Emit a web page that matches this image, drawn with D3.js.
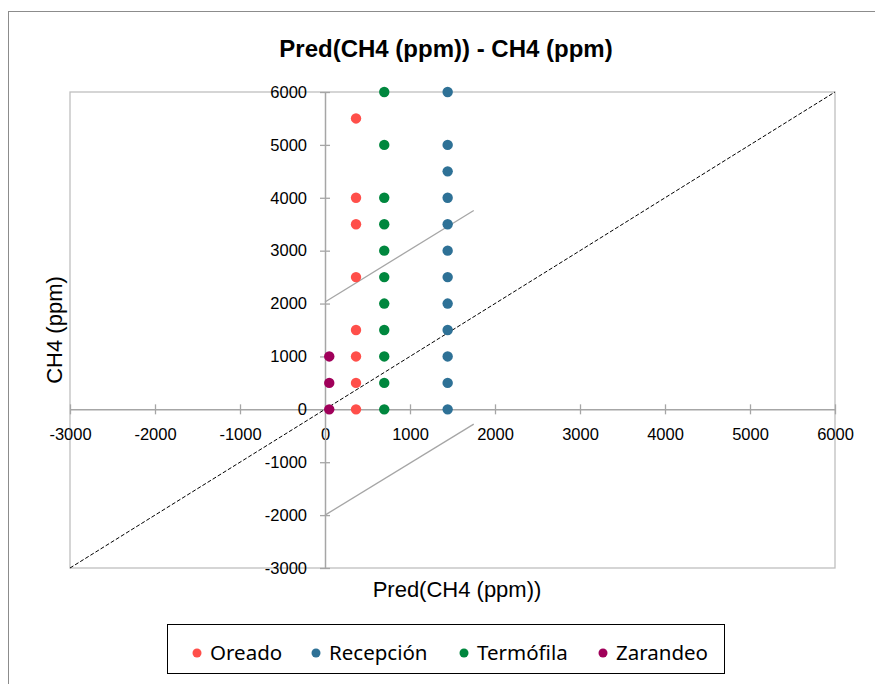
<!DOCTYPE html>
<html><head><meta charset="utf-8">
<script src="https://cdn.jsdelivr.net/npm/d3@7"></script>
<style>body{margin:0;background:#fff;} svg{display:block;}</style>
</head><body>
<div id="chart"></div>
<script>
// ---- data ----
const seriesNames = ["Oreado", "Recepción", "Termófila", "Zarandeo"];
const seriesColors = ["#FF4F4A", "#2E7196", "#00873E", "#A0005A"];
const oreadoX = 365;
const oreadoY = [5500, 4000, 3500, 2500, 1500, 1000, 500, 0];
const recepcionX = 1443;
const recepcionY = [6000, 5000, 4500, 4000, 3500, 3000, 2500, 2000, 1500, 1000, 500, 0];
const termofilaX = 697;
const termofilaY = [6000, 5000, 4000, 3500, 3000, 2500, 2000, 1500, 1000, 500, 0];
const zarandeoX = 50;
const zarandeoY = [1000, 500, 0];
const xTicks = [-3000, -2000, -1000, 0, 1000, 2000, 3000, 4000, 5000, 6000];
const yTicks = [-3000, -2000, -1000, 0, 1000, 2000, 3000, 4000, 5000, 6000];
const upperBand = [[0, 2030], [1750, 3760]];
const lowerBand = [[0, -2000], [1750, -280]];
const identityLine = [[-3000, -3000], [6000, 6000]];

const W = 875, H = 684;
const svg = d3.select("#chart").append("svg").attr("width", W).attr("height", H);
const x = d3.scaleLinear().domain([-3000, 6000]).range([70, 835]);
const y = d3.scaleLinear().domain([-3000, 6000]).range([568, 92]);
const font = "Liberation Sans, Arial, sans-serif";

// outer frame
svg.append("rect").attr("x", 8.5).attr("y", 11.5).attr("width", 900).attr("height", 700)
  .attr("fill", "none").attr("stroke", "#8c8c8c").attr("stroke-width", 1);

// title
svg.append("text").attr("x", 446).attr("y", 57).attr("text-anchor", "middle")
  .attr("font-family", font).attr("font-weight", "bold")
  .attr("font-size", 24).attr("fill", "#000").text("Pred(CH4 (ppm)) - CH4 (ppm)");

// plot area border
svg.append("rect").attr("x", x(-3000)).attr("y", y(6000))
  .attr("width", x(6000) - x(-3000)).attr("height", y(-3000) - y(6000))
  .attr("fill", "none").attr("stroke", "#bfbfbf").attr("stroke-width", 1.3);

// axes through zero
const xAxis = d3.axisBottom(x).tickValues(xTicks).tickSizeInner(0).tickSizeOuter(0).tickFormat(d => String(d));
const gx = svg.append("g").attr("transform", `translate(0,${y(0)})`).call(xAxis);
gx.select(".domain").attr("stroke", "#a6a6a6").attr("stroke-width", 1.5);
gx.selectAll(".tick line").remove();
gx.selectAll(".tick").append("line").attr("y1", -5).attr("y2", 5).attr("stroke", "#a6a6a6").attr("stroke-width", 1.3);
gx.selectAll(".tick text").attr("y", 19).attr("dy", "0.71em").attr("font-size", 16.5).attr("fill", "#000");

const yAxis = d3.axisLeft(y).tickValues(yTicks).tickSizeInner(0).tickSizeOuter(0).tickFormat(d => String(d));
const gy = svg.append("g").attr("transform", `translate(${x(0)},0)`).call(yAxis);
gy.select(".domain").attr("stroke", "#a6a6a6").attr("stroke-width", 1.5);
gy.selectAll(".tick line").remove();
gy.selectAll(".tick").append("line").attr("x1", -5).attr("x2", 5).attr("stroke", "#a6a6a6").attr("stroke-width", 1.3);
gy.selectAll(".tick text").attr("x", -18).attr("font-size", 16.5).attr("fill", "#000");
svg.selectAll(".tick text").attr("font-family", font);

// axis titles
svg.append("text").attr("x", 457).attr("y", 597).attr("text-anchor", "middle")
  .attr("font-family", font).attr("font-size", 22).attr("fill", "#000").text("Pred(CH4 (ppm))");
svg.append("text").attr("transform", "translate(62,330) rotate(-90)").attr("text-anchor", "middle")
  .attr("font-family", font).attr("font-size", 22).attr("fill", "#000").text("CH4 (ppm)");

// lines
const line = d3.line().x(d => x(d[0])).y(d => y(d[1]));
svg.append("path").attr("d", line(identityLine)).attr("fill", "none")
  .attr("stroke", "#000").attr("stroke-width", 1).attr("stroke-dasharray", "4,2");
[upperBand, lowerBand].forEach(b => svg.append("path").attr("d", line(b)).attr("fill", "none")
  .attr("stroke", "#a6a6a6").attr("stroke-width", 1.3));

// points
const series = [
  {xv: oreadoX, ys: oreadoY},
  {xv: recepcionX, ys: recepcionY},
  {xv: termofilaX, ys: termofilaY},
  {xv: zarandeoX, ys: zarandeoY}
];
series.forEach((s, i) => {
  svg.append("g").selectAll("circle").data(s.ys).join("circle")
    .attr("cx", x(s.xv)).attr("cy", d => y(d)).attr("r", 5.2)
    .attr("fill", seriesColors[i]);
});

// legend
const lg = svg.append("g");
lg.append("rect").attr("x", 167.5).attr("y", 624.5).attr("width", 557).attr("height", 49)
  .attr("fill", "#fff").attr("stroke", "#000").attr("stroke-width", 1);
const legX = [197, 316, 464, 603];
seriesNames.forEach((n, i) => {
  lg.append("circle").attr("cx", legX[i]).attr("cy", 653).attr("r", 4.5).attr("fill", seriesColors[i]);
  lg.append("text").attr("x", legX[i] + 13).attr("y", 660).attr("font-family", "Noto Sans, Open Sans, sans-serif")
    .attr("font-size", 20.5).attr("fill", "#000").text(n);
});
</script>
</body></html>
